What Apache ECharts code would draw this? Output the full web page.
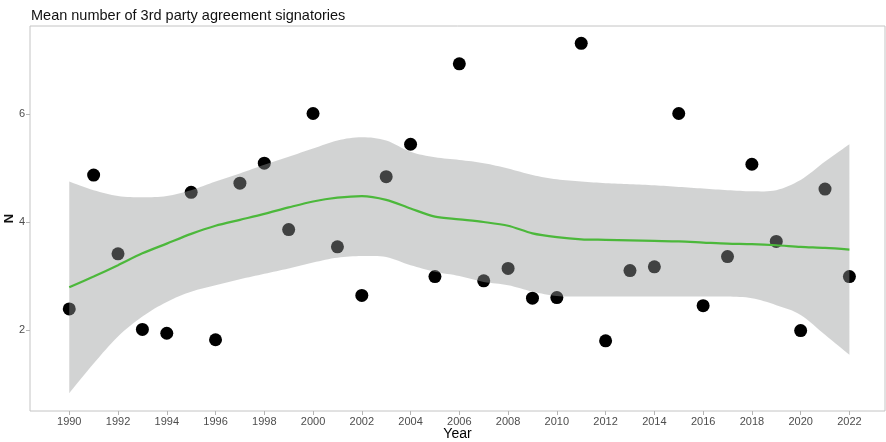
<!DOCTYPE html>
<html>
<head>
<meta charset="utf-8">
<script src="https://cdn.jsdelivr.net/npm/echarts@6/dist/echarts.min.js"></script>
<style>
  html, body { margin: 0; padding: 0; background: #fff; }
  #chart { width: 886px; height: 442px; }
</style>
</head>
<body>
<div id="chart"></div>
<script>
// Yearly mean number of signatories
const years = [1990, 1991, 1992, 1993, 1994, 1995, 1996, 1997, 1998, 1999, 2000,
  2001, 2002, 2003, 2004, 2005, 2006, 2007, 2008, 2009, 2010, 2011,
  2012, 2013, 2014, 2015, 2016, 2017, 2018, 2019, 2020, 2021, 2022];
const meanSignatories = [2.39, 4.87, 3.41, 2.01, 1.94, 4.55, 1.82, 4.72, 5.09, 3.86, 6.01,
  3.54, 2.64, 4.84, 5.44, 2.99, 6.93, 2.91, 3.14, 2.59, 2.60, 7.31,
  1.80, 3.10, 3.17, 6.01, 2.45, 3.36, 5.07, 3.64, 1.99, 4.61, 2.99];

// Loess fit and its confidence band, one value per year
const smoothFit = [2.79, 2.99, 3.20, 3.42, 3.60, 3.78, 3.93, 4.04, 4.15, 4.27, 4.38,
  4.45, 4.48, 4.41, 4.25, 4.10, 4.05, 4.00, 3.93, 3.79, 3.72, 3.68,
  3.67, 3.66, 3.65, 3.64, 3.62, 3.60, 3.59, 3.57, 3.54, 3.52, 3.49];
const bandUpper = [4.75, 4.59, 4.48, 4.46, 4.48, 4.59, 4.75, 4.90, 5.06, 5.21, 5.36,
  5.51, 5.57, 5.51, 5.30, 5.20, 5.15, 5.09, 4.99, 4.87, 4.79, 4.75,
  4.72, 4.70, 4.68, 4.65, 4.62, 4.59, 4.57, 4.59, 4.78, 5.12, 5.44];
const bandLower = [0.83, 1.38, 1.88, 2.25, 2.52, 2.71, 2.83, 2.94, 3.04, 3.14, 3.25,
  3.34, 3.37, 3.35, 3.20, 3.08, 3.00, 2.89, 2.83, 2.71, 2.63, 2.62,
  2.62, 2.62, 2.62, 2.62, 2.62, 2.62, 2.59, 2.46, 2.28, 1.91, 1.54];

// Tick labels
const xTicks = [1990, 1992, 1994, 1996, 1998, 2000, 2002, 2004, 2006, 2008, 2010,
  2012, 2014, 2016, 2018, 2020, 2022];
const yTicks = [2, 4, 6];

const pair = (arr) => years.map((y, i) => [y, arr[i]]);

// Catmull-Rom resampling of pixel points so the band edges run smoothly
function smoothPath(pts, steps) {
  const out = [];
  for (let i = 0; i < pts.length - 1; i++) {
    const p0 = pts[Math.max(i - 1, 0)], p1 = pts[i], p2 = pts[i + 1], p3 = pts[Math.min(i + 2, pts.length - 1)];
    for (let s = 0; s < steps; s++) {
      const t = s / steps, t2 = t * t, t3 = t2 * t;
      const f = (a, b, c, d) => 0.5 * ((2 * b) + (-a + c) * t + (2 * a - 5 * b + 4 * c - d) * t2 + (-a + 3 * b - 3 * c + d) * t3);
      out.push([f(p0[0], p1[0], p2[0], p3[0]), f(p0[1], p1[1], p2[1], p3[1])]);
    }
  }
  out.push(pts[pts.length - 1]);
  return out;
}

const chart = echarts.init(document.getElementById('chart'), null, { renderer: 'canvas' });

const fontFamily = 'Liberation Sans, Arial, sans-serif';
const tickText = { color: '#4d4d4d', fontSize: 11, fontFamily };

chart.setOption({
  animation: false,
  backgroundColor: '#fff',
  title: {
    text: 'Mean number of 3rd party agreement signatories',
    left: 26,
    top: 3,
    textStyle: { fontSize: 14.5, fontWeight: 'normal', color: '#111', fontFamily }
  },
  grid: {
    left: 30, right: 1, top: 26, bottom: 31,
    containLabel: false,
    outerBoundsMode: 'none',
    show: true, borderColor: '#c4c4c4', borderWidth: 1, backgroundColor: '#fff'
  },
  xAxis: {
    type: 'value',
    min: 1988.39,
    max: 2023.46,
    name: 'Year',
    nameLocation: 'middle',
    nameGap: 16,
    nameMoveOverlap: false,
    nameTextStyle: { fontSize: 14, color: '#000', fontFamily },
    axisLine: { show: false },
    splitLine: { show: false },
    axisTick: { show: true, length: 4, lineStyle: { color: '#b5b5b5' }, customValues: xTicks },
    axisLabel: Object.assign({ margin: 5, customValues: xTicks, formatter: (v) => String(v) }, tickText)
  },
  yAxis: {
    type: 'value',
    min: 0.5,
    max: 7.63,
    name: 'N',
    nameLocation: 'middle',
    nameGap: 14,
    nameMoveOverlap: false,
    nameRotate: 90,
    nameTextStyle: { fontSize: 13, fontWeight: 'bold', color: '#111', fontFamily },
    axisLine: { show: false },
    splitLine: { show: false },
    axisTick: { show: true, length: 4, lineStyle: { color: '#b5b5b5' }, customValues: yTicks },
    axisLabel: Object.assign({ margin: 5, customValues: yTicks }, tickText)
  },
  series: [
    {
      name: 'Mean',
      type: 'scatter',
      z: 1,
      symbolSize: 13,
      itemStyle: { color: '#000', opacity: 1 },
      data: pair(meanSignatories)
    },
    {
      name: 'Confidence band',
      type: 'custom',
      z: 2,
      silent: true,
      data: [0],
      renderItem: function (params, api) {
        const upper = smoothPath(years.map((y, i) => api.coord([y, bandUpper[i]])), 8);
        const lower = smoothPath(years.map((y, i) => api.coord([y, bandLower[i]])), 8);
        return {
          type: 'polygon',
          shape: { points: upper.concat(lower.reverse()) },
          style: { fill: 'rgba(150,152,154,0.43)', stroke: null }
        };
      }
    },
    {
      name: 'Fit',
      type: 'line',
      z: 3,
      smooth: 0.3,
      symbol: 'none',
      lineStyle: { color: '#4cb83b', width: 2.2 },
      data: pair(smoothFit)
    }
  ]
});
</script>
</body>
</html>
